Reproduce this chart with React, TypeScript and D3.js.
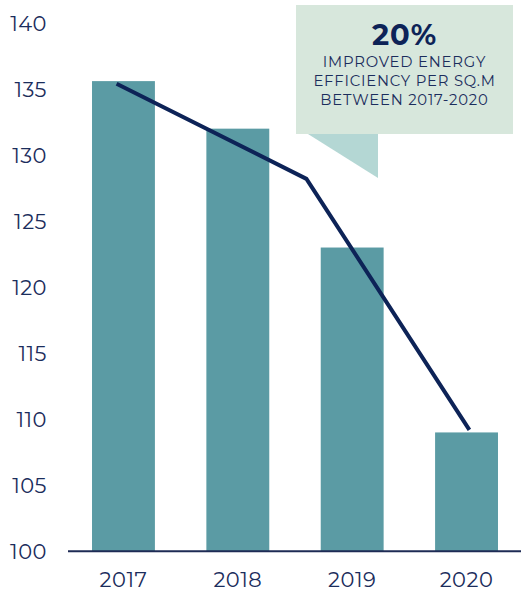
import React from "react";
import * as d3 from "d3";

const years = ["2017", "2018", "2019", "2020"];
const barValues = [135.6, 132, 123, 109];
const lineIndex = [-0.06, 1.6, 3.025];
const lineValues = [135.4, 128.2, 109.2];
const yTicks = [100, 105, 110, 115, 120, 125, 130, 135, 140];
const calloutHeadline = "20%";
const calloutLines = ["IMPROVED ENERGY", "EFFICIENCY PER SQ.M", "BETWEEN 2017-2020"];

const W = 521;
const H = 592;
const NAVY = "#0d2357";
const TEXT = "#1b2d5c";
const BAR = "#5b9ba4";
const FONT = "Montserrat, 'Open Sans', Lato, sans-serif";

export default function App() {
  const y = d3.scaleLinear().domain([100, 140]).range([551.3, 23]);
  const x = d3
    .scaleBand<string>()
    .domain(years)
    .range([68, 522])
    .paddingInner(0.45)
    .paddingOuter(0.21);
  const bw = x.bandwidth();
  const xi = d3
    .scaleLinear()
    .domain([0, years.length - 1])
    .range([x(years[0])! + bw / 2, x(years[years.length - 1])! + bw / 2]);

  const line = d3
    .line<number>()
    .x((_, i) => xi(lineIndex[i]))
    .y((v) => y(v));

  const boxX = 296;
  const boxY = 5;
  const boxW = 217;
  const boxH = 129;
  const cx = boxX + boxW / 2;

  return (
    <svg
      width={W}
      height={H}
      style={{ position: "absolute", left: 0, top: 0, background: "#fff" }}
      fontFamily={FONT}
    >
      {/* callout */}
      <rect x={boxX} y={boxY} width={boxW} height={boxH} fill="#d7e7dc" />
      <path
        d={`M${boxX + 12},${boxY + boxH} L${boxX + 82},${boxY + boxH} L${boxX + 82},${boxY + boxH + 44} Z`}
        fill="#b4d7d4"
      />
      <text x={cx} y={45} textAnchor="middle" fontSize={29} fontWeight={700} fill={NAVY} letterSpacing={1}>
        {calloutHeadline}
      </text>
      {calloutLines.map((t, i) => (
        <text
          key={t}
          x={cx}
          y={67 + i * 19.2}
          textAnchor="middle"
          fontSize={14.8}
          letterSpacing={0.8}
          fill={TEXT}
        >
          {t}
        </text>
      ))}

      {/* bars */}
      {years.map((yr, i) => (
        <rect
          key={yr}
          x={x(yr)!}
          y={y(barValues[i])}
          width={bw}
          height={y(100) - y(barValues[i])}
          fill={BAR}
        />
      ))}

      {/* line */}
      <path
        d={line(lineValues)!}
        fill="none"
        stroke={NAVY}
        strokeWidth={4}
        strokeLinejoin="round"
      />

      {/* baseline */}
      <line x1={68} x2={521} y1={y(100)} y2={y(100)} stroke="#1e2b55" strokeWidth={2} />

      {/* y tick labels */}
      {yTicks.map((t) => (
        <text
          key={t}
          x={47}
          y={y(t)}
          dy="0.36em"
          textAnchor="end"
          fontSize={21}
          letterSpacing={0.5}
          fill={TEXT}
        >
          {t}
        </text>
      ))}

      {/* x labels */}
      {years.map((yr) => (
        <text
          key={yr}
          x={x(yr)! + bw / 2}
          y={587}
          textAnchor="middle"
          fontSize={21}
          letterSpacing={0.5}
          fill={TEXT}
        >
          {yr}
        </text>
      ))}
    </svg>
  );
}
